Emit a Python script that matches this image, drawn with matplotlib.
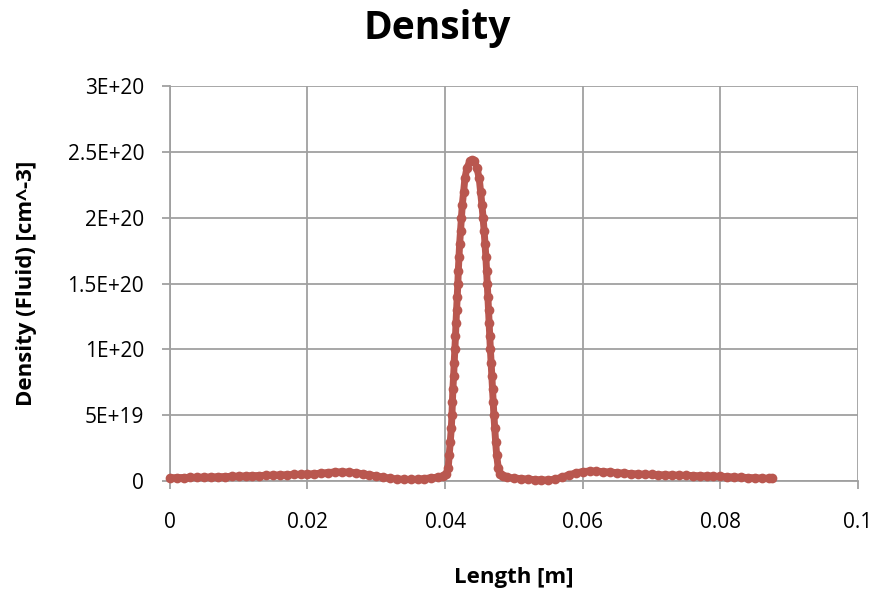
import numpy as np
import matplotlib.pyplot as plt
from matplotlib.ticker import FixedLocator

plt.rcParams['font.family'] = ['Open Sans', 'DejaVu Sans']

# position along the device [m]
length = [
    0.000, 0.001, 0.002, 0.003, 0.004, 0.005, 0.006, 0.007, 0.008, 0.009,
    0.010, 0.011, 0.012, 0.013, 0.014, 0.015, 0.016, 0.017, 0.018, 0.019,
    0.020, 0.021, 0.022, 0.023, 0.024, 0.025, 0.026, 0.027, 0.028, 0.029,
    0.030, 0.031, 0.032, 0.033, 0.034, 0.035, 0.036, 0.037, 0.038, 0.039,
    0.03968, 0.04012, 0.04045, 0.04060, 0.04076, 0.04090, 0.04099, 0.04106,
    0.04113, 0.04124, 0.04132, 0.04142, 0.04151, 0.04158, 0.04167, 0.04176,
    0.04185, 0.04192, 0.04201, 0.04211, 0.04224, 0.04237, 0.04250, 0.04269,
    0.04288, 0.04317, 0.04360, 0.04390, 0.04426, 0.04462, 0.04496, 0.04516,
    0.04535, 0.04552, 0.04567, 0.04580, 0.04593, 0.04603, 0.04613, 0.04622,
    0.04631, 0.04640, 0.04648, 0.04658, 0.04669, 0.04679, 0.04689, 0.04699,
    0.04709, 0.04721, 0.04734, 0.04749, 0.04772, 0.04797, 0.04840,
    0.049, 0.050, 0.051, 0.052, 0.053, 0.054, 0.055, 0.056, 0.057, 0.058,
    0.059, 0.060, 0.061, 0.062, 0.063, 0.064, 0.065, 0.066, 0.067, 0.068,
    0.069, 0.070, 0.071, 0.072, 0.073, 0.074, 0.075, 0.076, 0.077, 0.078,
    0.079, 0.080, 0.081, 0.082, 0.083, 0.084, 0.085, 0.086, 0.087, 0.0875,
]

# fluid density [1e18 cm^-3]
density_e18 = [
    2.5, 2.6, 2.7, 2.8, 2.9, 3.0, 3.1, 3.3, 3.4, 3.6,
    3.8, 3.9, 4.1, 4.2, 4.4, 4.5, 4.7, 4.8, 5.0, 5.1,
    5.3, 5.6, 6.0, 6.5, 6.9, 7.0, 6.8, 6.3, 5.6, 4.8,
    3.9, 3.0, 2.2, 1.6, 1.3, 1.2, 1.4, 1.9, 2.5, 3.0,
    3.5, 5, 10, 20, 30, 40, 50, 60,
    70, 80, 90, 100, 110, 120, 130, 140,
    150, 160, 170, 180, 190, 200, 210, 220,
    230, 238, 243, 244, 243, 238, 230, 220,
    210, 200, 190, 180, 170, 160, 150, 140,
    130, 120, 110, 100, 90, 80, 70, 60,
    50, 40, 30, 20, 10, 5, 3.5,
    3.0, 2.3, 1.9, 1.5, 1.1, 0.9, 0.8, 1.5, 3.0, 4.8,
    6.2, 7.2, 7.6, 7.5, 7.2, 6.8, 6.4, 6.0, 5.7, 5.4,
    5.2, 5.0, 4.8, 4.7, 4.6, 4.5, 4.3, 4.2, 4.0, 3.9,
    3.7, 3.5, 3.3, 3.1, 2.9, 2.7, 2.5, 2.3, 2.1, 2.0,
]

x_ticks = [0, 0.02, 0.04, 0.06, 0.08, 0.1]
x_labels = ['0', '0.02', '0.04', '0.06', '0.08', '0.1']
y_ticks = [0, 5e19, 1e20, 1.5e20, 2e20, 2.5e20, 3e20]
y_labels = ['0', '5E+19', '1E+20', '1.5E+20', '2E+20', '2.5E+20', '3E+20']

density = np.array(density_e18) * 1e18

fig = plt.figure(figsize=(8.8, 5.91), dpi=100)
ax = fig.add_axes([0.193, 0.186, 0.782, 0.668])

line_color = '#B9574F'
ax.plot(length, density, color=line_color, linewidth=5,
        marker='o', markersize=7, markeredgewidth=0, solid_capstyle='round',
        clip_on=False, zorder=3)

ax.set_xlim(0, 0.1)
ax.set_ylim(0, 3e20)
ax.xaxis.set_major_locator(FixedLocator(x_ticks))
ax.yaxis.set_major_locator(FixedLocator(y_ticks))
ax.set_xticklabels(x_labels)
ax.set_yticklabels(y_labels)

grid_color = '#A0A0A0'
ax.grid(True, color=grid_color, linewidth=1.3)
ax.set_axisbelow(True)
for side in ['top', 'right']:
    ax.spines[side].set_visible(False)
for side in ['left', 'bottom']:
    ax.spines[side].set_color(grid_color)
    ax.spines[side].set_linewidth(1.3)

ax.tick_params(axis='both', direction='out', length=6, width=1.3,
               color=grid_color, labelsize=15, labelcolor='black')
ax.tick_params(axis='x', pad=16)
ax.tick_params(axis='y', pad=12.5)

ax.set_xlabel('Length [m]', fontsize=16, fontweight='bold', va='center')
ax.xaxis.set_label_coords(0.5, -0.243)
ax.set_ylabel('Density (Fluid) [cm^-3]', fontsize=16, fontweight='bold', va='center')
ax.yaxis.set_label_coords(-0.208, 0.5)
fig.text(0.497, 1 - 28 / 591, 'Density', fontsize=28, fontweight='bold',
         ha='center', va='center')

fig.savefig('out.png', dpi=100)
